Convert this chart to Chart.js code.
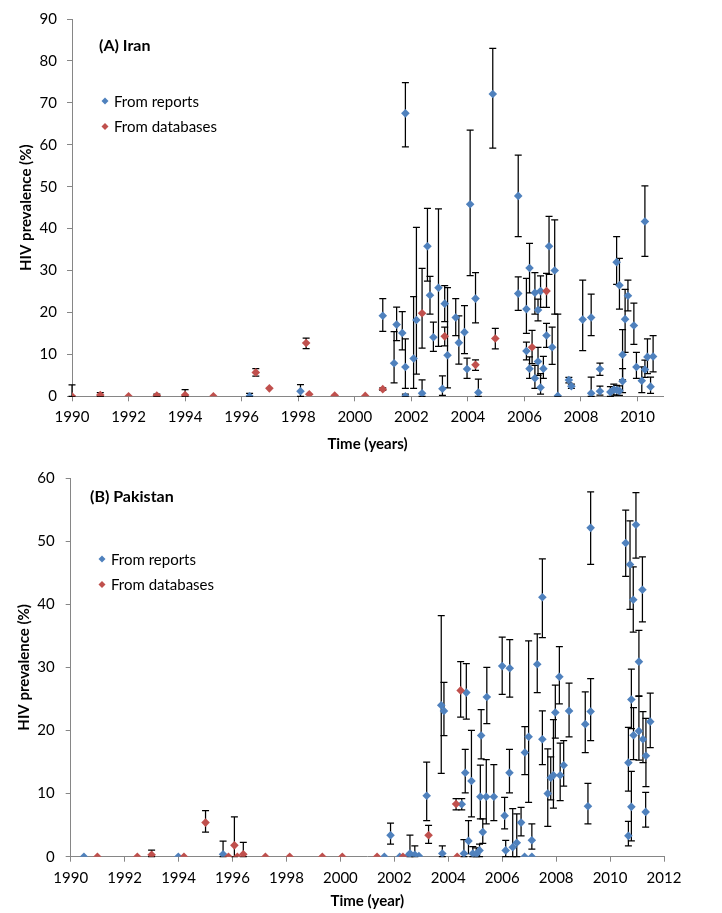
<!DOCTYPE html>
<html>
<head>
<meta charset="utf-8">
<script src="https://cdn.jsdelivr.net/npm/chart.js@4.4.0/dist/chart.umd.min.js"></script>
<style>
  html, body { margin: 0; padding: 0; background: #fff; }
  .panel { position: relative; width: 722px; }
</style>
</head>
<body>
<div class="panel" style="height:458px"><canvas id="iran"></canvas></div>
<div class="panel" style="height:455px"><canvas id="pak"></canvas></div>
<script>
// ---- (A) Iran : from reports ----
const iranRepX = [1996.28, 1998.08, 2000.99, 2001.39, 2001.48, 2001.68, 2001.79, 2001.79, 2001.79, 2002.08,
  2002.18, 2002.38, 2002.57, 2002.66, 2002.78, 2002.96, 2003.10, 2003.18, 2003.28, 2003.57,
  2003.68, 2003.88, 2003.97, 2004.08, 2004.27, 2004.37, 2004.88, 2005.78, 2005.78, 2006.07,
  2006.07, 2006.18, 2006.18, 2006.37, 2006.37, 2006.48, 2006.48, 2006.57, 2006.57, 2006.67,
  2006.78, 2006.87, 2006.98, 2007.07, 2007.18, 2007.57, 2007.66, 2008.06, 2008.36, 2008.36,
  2008.67, 2008.67, 2009.04, 2009.16, 2009.26, 2009.26, 2009.36, 2009.36, 2009.47, 2009.47,
  2009.56, 2009.66, 2009.87, 2009.96, 2010.15, 2010.26, 2010.26, 2010.35, 2010.46, 2010.55];
const iranRepY = [0, 1.2, 19.2, 7.9, 17.1, 15.1, 67.5, 7.0, 0, 9.0,
  18.2, 0.7, 35.8, 24.1, 14.1, 25.9, 1.8, 22.1, 9.8, 18.8,
  12.8, 15.3, 6.5, 45.8, 23.3, 0.9, 72.1, 47.8, 24.5, 20.8,
  10.8, 30.6, 6.6, 24.7, 4.3, 20.6, 8.3, 25.1, 2.1, 6.6,
  14.5, 35.8, 11.7, 30.0, 0.1, 3.9, 2.4, 18.3, 18.8, 0.7,
  6.5, 1.2, 1.0, 1.6, 32.0, 1.5, 26.5, 1.3, 9.9, 3.6,
  18.4, 24.0, 16.9, 7.0, 3.7, 41.7, 6.4, 9.4, 2.3, 9.5];
const iranRepLo = [0, 0, 15.5, 3.2, 13.3, 11.1, 59.5, 1.9, 0, 1.9,
  5.3, 0, 27.5, 19.6, 10.7, 11.9, 0.2, 17.8, 2.0, 14.5,
  7.7, 10.2, 4.3, 28.8, 17.5, 0, 59.2, 38.1, 20.5, 15.0,
  8.7, 24.7, 4.3, 19.6, 1.9, 18.0, 5.0, 21.2, 0.5, 4.3,
  11.7, 29.1, 7.6, 19.6, 0, 3.2, 1.9, 10.9, 14.5, 0,
  5.0, 0.3, 0, 0.3, 26.7, 0.3, 20.8, 0.2, 3.9, 0.9,
  10.5, 20.4, 12.4, 4.3, 0.9, 33.4, 4.5, 5.4, 0.7, 5.8];
const iranRepHi = [0.7, 2.8, 23.3, 15.4, 21.3, 20.2, 74.8, 13.7, 0.5, 23.8,
  40.3, 3.9, 44.8, 28.6, 17.7, 44.7, 4.9, 26.4, 25.9, 23.3,
  19.2, 21.6, 9.1, 63.5, 29.5, 4.1, 83.0, 57.5, 28.5, 28.1,
  12.9, 36.5, 9.4, 29.5, 7.4, 23.2, 11.7, 28.7, 5.4, 9.5,
  17.4, 42.9, 16.5, 42.1, 19.6, 4.5, 2.9, 27.7, 24.4, 4.6,
  7.9, 2.4, 2.3, 2.9, 38.1, 2.6, 32.9, 2.5, 15.9, 6.6,
  25.5, 27.7, 22.2, 10.5, 7.0, 50.2, 8.6, 13.7, 4.6, 14.5];

// ---- (A) Iran : from databases ----
const iranDbX = [1990.0, 1991.0, 1992.0, 1993.0, 1994.0, 1995.0, 1996.5, 1996.98, 1998.28, 1998.39,
  1999.29, 2000.37, 2000.99, 2002.38, 2003.18, 2004.27, 2004.97, 2006.27, 2006.78];
const iranDbY = [0, 0.3, 0, 0.2, 0.3, 0, 5.7, 1.9, 12.7, 0.5, 0.2, 0.1, 1.7, 19.8, 14.3, 7.5, 13.8, 11.7, 25.1];
const iranDbLo = [0, 0, 0, 0, 0, 0, 4.8, 1.9, 11.4, 0.5, 0.2, 0.1, 1.4, 11.5, 12.0, 6.2, 11.3, 7.8, 21.2];
const iranDbHi = [2.7, 0.85, 0, 0.5, 1.6, 0, 6.6, 1.9, 13.9, 0.5, 0.2, 0.1, 2.0, 30.5, 16.5, 8.7, 16.2, 15.7, 29.3];

// ---- (B) Pakistan : from reports ----
const pakRepX = [1990.49, 1993.99, 1995.65, 2001.63, 2001.86, 2002.2, 2002.5, 2002.58, 2002.76, 2002.91,
  2003.2, 2003.74, 2003.78, 2003.84, 2004.5, 2004.58, 2004.63, 2004.67, 2004.75, 2004.86,
  2004.91, 2005.04, 2005.16, 2005.19, 2005.22, 2005.28, 2005.41, 2005.43, 2005.69, 2006.0,
  2006.09, 2006.13, 2006.27, 2006.28, 2006.39, 2006.54, 2006.7, 2006.83, 2006.84, 2006.98,
  2007.1, 2007.1, 2007.3, 2007.49, 2007.49, 2007.69, 2007.8, 2007.9, 2007.97, 2008.12,
  2008.15, 2008.28, 2008.48, 2009.08, 2009.18, 2009.28, 2009.28, 2010.58, 2010.68, 2010.68,
  2010.74, 2010.79, 2010.79, 2010.86, 2010.87, 2010.96, 2011.07, 2011.07, 2011.2, 2011.22,
  2011.32, 2011.33, 2011.49];
const pakRepY = [0, 0, 0.37, 0, 3.4, 0, 0.1, 0.5, 0.3, 0.1,
  9.66, 24.0, 0.5, 23.1, 8.3, 0.5, 13.3, 26.0, 2.5, 12.0,
  0.5, 0.4, 1.0, 9.5, 19.2, 3.9, 9.5, 25.3, 9.5, 30.2,
  6.5, 1.0, 13.3, 29.85, 1.5, 2.2, 5.4, 0, 16.5, 19.0,
  0, 2.6, 30.5, 41.1, 18.6, 10.0, 12.5, 12.9, 22.85, 28.5,
  12.9, 14.5, 23.1, 21.0, 8.0, 52.1, 23.0, 49.7, 14.9, 3.3,
  46.3, 24.9, 7.9, 40.7, 19.25, 52.6, 30.9, 19.9, 42.3, 18.6,
  7.1, 16.0, 21.4];
const pakRepLo = [0, 0, 0, 0, 2.0, 0, 0.1, 0, 0, 0.1,
  5.7, 13.2, 0, 19.2, 7.4, 0, 10.1, 21.8, 0.5, 6.3,
  0, 0, 0, 6.0, 15.5, 2.1, 5.2, 21.1, 5.7, 25.7,
  4.4, 0, 10.1, 25.3, 0, 0, 3.3, 0, 13.0, 8.6,
  0, 1.2, 26.0, 34.7, 14.6, 4.8, 9.0, 7.7, 18.8, 24.2,
  8.9, 11.2, 19.0, 16.5, 5.2, 46.3, 18.4, 44.4, 10.4, 1.7,
  39.2, 20.3, 2.5, 35.6, 15.4, 47.3, 25.5, 15.3, 37.2, 14.9,
  4.7, 11.1, 17.3];
const pakRepHi = [0, 0, 2.45, 0, 5.3, 0, 0.1, 3.4, 1.7, 0.1,
  15.0, 38.2, 1.7, 27.6, 9.2, 2.7, 17.0, 30.6, 5.7, 20.0,
  1.6, 1.4, 2.0, 14.5, 23.3, 6.0, 15.4, 30.0, 14.6, 34.8,
  9.4, 2.6, 17.0, 34.4, 7.6, 6.8, 7.8, 0, 20.6, 34.2,
  0, 5.2, 35.3, 47.2, 23.1, 17.1, 15.8, 21.7, 27.2, 33.3,
  18.0, 18.4, 27.5, 26.1, 11.6, 57.8, 28.2, 54.9, 20.5, 5.6,
  53.2, 29.7, 13.5, 45.9, 23.6, 57.7, 35.85, 25.4, 47.5, 23.0,
  10.2, 21.9, 25.9];

// ---- (B) Pakistan : from databases ----
const pakDbX = [1990.99, 1992.47, 1993.0, 1994.2, 1995.0, 1995.85, 1996.07, 1996.18, 1996.4, 1997.22,
  1998.12, 1999.33, 2000.07, 2001.36, 2002.32, 2003.27, 2004.29, 2004.33, 2004.46];
const pakDbY = [0, 0, 0.3, 0, 5.4, 0, 1.8, 0, 0.37, 0, 0, 0, 0, 0, 0, 3.4, 8.35, 0, 26.35];
const pakDbLo = [0, 0, 0, 0, 3.9, 0, 0, 0, 0, 0, 0, 0, 0, 0, 0, 2.1, 7.4, 0, 22.1];
const pakDbHi = [0, 0, 1.05, 0, 7.3, 0, 6.3, 0, 2.25, 0, 0, 0, 0, 0, 0, 4.96, 9.2, 0, 30.9];

const BLUE = '#4F81BD';
const RED = '#C0504D';
const AXIS = '#868686';

Chart.defaults.font.family = 'Lato';
Chart.defaults.color = '#000';

function toPoints(xs, ys, los, his) {
  return xs.map((x, i) => ({ x: x, y: ys[i], lo: los[i], hi: his[i] }));
}

function diamond(ctx, x, y, r, color) {
  ctx.beginPath();
  ctx.moveTo(x, y - r);
  ctx.lineTo(x + r, y);
  ctx.lineTo(x, y + r);
  ctx.lineTo(x - r, y);
  ctx.closePath();
  ctx.fillStyle = color;
  ctx.fill();
}

// excel-ish vertical error bars, drawn under the markers
const errorBars = {
  id: 'errorBars',
  beforeDatasetsDraw(chart) {
    const { ctx, scales: { x, y } } = chart;
    ctx.save();
    ctx.strokeStyle = '#000';
    ctx.lineWidth = 1.25;
    chart.data.datasets.forEach(ds => {
      ds.data.forEach(p => {
        if (p.hi === p.lo) return;
        const px = x.getPixelForValue(p.x);
        const top = y.getPixelForValue(p.hi);
        const bot = y.getPixelForValue(p.lo);
        ctx.beginPath();
        ctx.moveTo(px, top); ctx.lineTo(px, bot);
        ctx.moveTo(px - 3.5, top); ctx.lineTo(px + 3.5, top);
        ctx.moveTo(px - 3.5, bot); ctx.lineTo(px + 3.5, bot);
        ctx.stroke();
      });
    });
    ctx.restore();
  }
};

// panel label + legend inside the plot area
const panelLegend = {
  id: 'panelLegend',
  afterDatasetsDraw(chart, args, opts) {
    const ctx = chart.ctx;
    ctx.save();
    ctx.textBaseline = 'middle';
    ctx.fillStyle = '#000';
    ctx.font = 'bold 16px Lato';
    ctx.fillText(opts.title, opts.titleX, opts.titleY);
    ctx.font = '15px Lato';
    chart.data.datasets.forEach((ds, i) => {
      const ly = opts.legendY + i * 25.5;
      diamond(ctx, opts.legendX, ly, 3.5, ds.backgroundColor);
      ctx.fillStyle = '#000';
      ctx.fillText(ds.label, opts.legendX + 9, ly + 1);
    });
    ctx.restore();
  }
};

function buildChart(id, c) {
  return new Chart(document.getElementById(id), {
    type: 'scatter',
    data: {
      datasets: [
        { label: 'From reports', data: c.reports, order: 2, backgroundColor: BLUE, borderColor: BLUE,
          pointStyle: 'rectRot', pointRadius: 4.3, pointHoverRadius: 4.3, borderWidth: 0 },
        { label: 'From databases', data: c.databases, order: 1, backgroundColor: RED, borderColor: RED,
          pointStyle: 'rectRot', pointRadius: 4.3, pointHoverRadius: 4.3, borderWidth: 0 }
      ]
    },
    options: {
      responsive: true,
      maintainAspectRatio: false,
      animation: false,
      layout: { padding: { top: c.padTop, right: c.padRight, left: 0, bottom: 0 } },
      plugins: {
        legend: { display: false },
        tooltip: { enabled: false },
        panelLegend: c.legend
      },
      scales: {
        x: {
          type: 'linear',
          min: c.xMin,
          max: c.xMax,
          afterFit: s => { s.height = c.xHeight; },
          border: { color: AXIS, width: 1 },
          grid: { drawOnChartArea: false, tickLength: 5, color: AXIS },
          ticks: { stepSize: 2, includeBounds: false, autoSkip: false, maxRotation: 0, padding: 7,
            font: { size: 15 }, callback: v => String(v) },
          title: { display: true, text: c.xTitle, font: { size: 15, weight: 'bold' },
            padding: { top: 0, bottom: c.xTitlePad } }
        },
        y: {
          min: 0,
          max: c.yMax,
          afterFit: s => { s.width = c.yWidth; },
          border: { color: AXIS, width: 1 },
          grid: { drawOnChartArea: false, tickLength: 5, color: AXIS },
          ticks: { stepSize: 10, padding: c.yTickPad, font: { size: 15 } },
          title: { display: true, text: 'HIV prevalence (%)', font: { size: 15, weight: 'bold' },
            padding: { top: c.yTitlePad, bottom: 0 } }
        }
      }
    },
    plugins: [errorBars, panelLegend]
  });
}

buildChart('iran', {
  reports: toPoints(iranRepX, iranRepY, iranRepLo, iranRepHi),
  databases: toPoints(iranDbX, iranDbY, iranDbLo, iranDbHi),
  xMin: 1990, xMax: 2010.9, yMax: 90,
  xTitle: 'Time (years)',
  padTop: 15.7, padRight: 59, xHeight: 61.7, yWidth: 72,
  xTitlePad: 5, yTitlePad: 17, yTickPad: 10,
  legend: { title: '(A) Iran', titleX: 99, titleY: 46, legendX: 105, legendY: 101 }
});

buildChart('pak', {
  reports: toPoints(pakRepX, pakRepY, pakRepLo, pakRepHi),
  databases: toPoints(pakDbX, pakDbY, pakDbLo, pakDbHi),
  xMin: 1990, xMax: 2012, yMax: 60,
  xTitle: 'Time (year)',
  padTop: 15.3, padRight: 58, xHeight: 56.3, yWidth: 70.7,
  xTitlePad: 3, yTitlePad: 15, yTickPad: 11,
  legend: { title: '(B) Pakistan', titleX: 90, titleY: 39, legendX: 102, legendY: 101 }
});
</script>
</body>
</html>
